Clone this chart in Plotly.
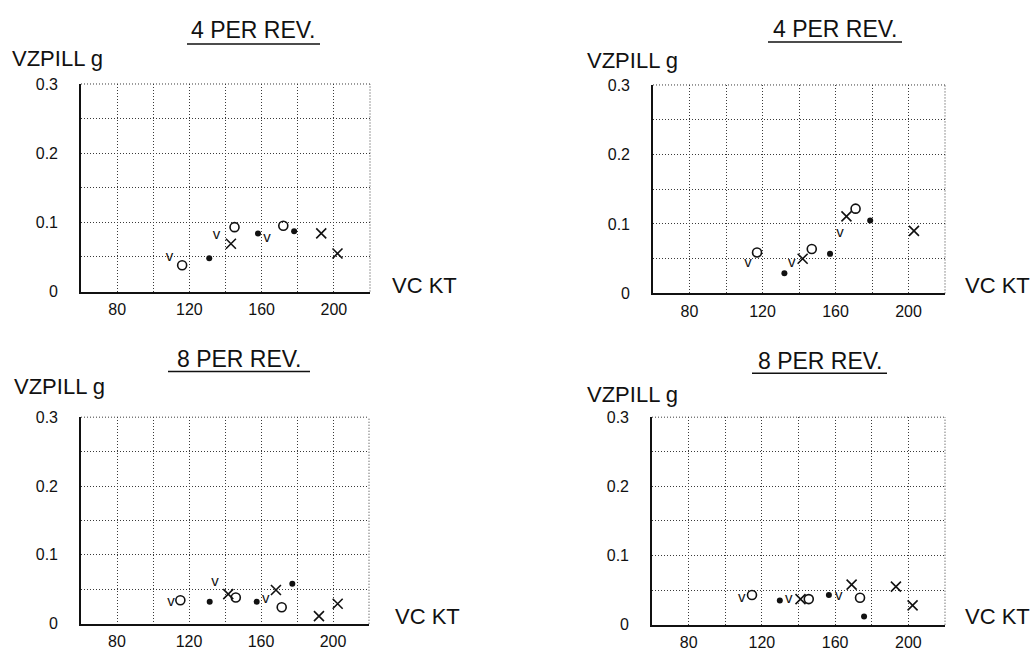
import plotly.graph_objects as go

W, H = 1034, 660

# ---------------- data (VC in knots, VZPILL in g) ----------------
titles = ["4 PER REV.", "4 PER REV.", "8 PER REV.", "8 PER REV."]
x_tick_labels = ["", "80", "", "120", "", "160", "", "200", ""]
x_tick_vals = [60, 80, 100, 120, 140, 160, 180, 200, 220]
y_tick_vals = [0, 0.05, 0.1, 0.15, 0.2, 0.25, 0.3]
y_tick_labels = ["0", "", "0.1", "", "0.2", "", "0.3"]

# panel 1 : 4 per rev (left)
p1_v_x = [109, 135, 163]
p1_v_y = [0.049, 0.081, 0.077]
p1_o_x = [116, 145, 172]
p1_o_y = [0.038, 0.093, 0.095]
p1_dot_x = [131, 158, 178]
p1_dot_y = [0.048, 0.084, 0.087]
p1_x_x = [143, 193, 202]
p1_x_y = [0.069, 0.084, 0.055]

# panel 2 : 4 per rev (right)
p2_v_x = [112, 136, 162.5]
p2_v_y = [0.043, 0.043, 0.086]
p2_o_x = [117, 147, 171]
p2_o_y = [0.059, 0.064, 0.122]
p2_dot_x = [132, 157, 179]
p2_dot_y = [0.029, 0.057, 0.105]
p2_x_x = [142, 166, 203]
p2_x_y = [0.050, 0.111, 0.090]

# panel 3 : 8 per rev (left)
p3_v_x = [110, 134.5, 162.6]
p3_v_y = [0.031, 0.060, 0.036]
p3_o_x = [115.2, 146, 171.5]
p3_o_y = [0.034, 0.038, 0.024]
p3_dot_x = [131.5, 157.6, 177.4]
p3_dot_y = [0.032, 0.032, 0.058]
p3_x_x = [141.8, 168.3, 192.2, 202.6]
p3_x_y = [0.043, 0.049, 0.011, 0.029]

# panel 4 : 8 per rev (right)
p4_v_x = [109, 134.7, 162]
p4_v_y = [0.038, 0.037, 0.041]
p4_o_x = [114.6, 145.6, 173.6]
p4_o_y = [0.043, 0.037, 0.039]
p4_dot_x = [129.8, 156.6, 175.8]
p4_dot_y = [0.035, 0.043, 0.012]
p4_x_x = [141.1, 169, 193.2, 202.3]
p4_x_y = [0.037, 0.058, 0.055, 0.028]

panels = [
    (p1_v_x, p1_v_y, p1_o_x, p1_o_y, p1_dot_x, p1_dot_y, p1_x_x, p1_x_y),
    (p2_v_x, p2_v_y, p2_o_x, p2_o_y, p2_dot_x, p2_dot_y, p2_x_x, p2_x_y),
    (p3_v_x, p3_v_y, p3_o_x, p3_o_y, p3_dot_x, p3_dot_y, p3_x_x, p3_x_y),
    (p4_v_x, p4_v_y, p4_o_x, p4_o_y, p4_dot_x, p4_dot_y, p4_x_x, p4_x_y),
]

# ---------------- layout geometry (pixels) ----------------
FONT = "Liberation Sans, Arial, Helvetica, sans-serif"
INK = "#111111"
GRID = "#3a3a3a"
GDASH = "1px,2px"

# plot boxes: (left, right, top, bottom) in px
boxes = [(81, 370, 78, 291), (653, 945, 79, 293), (81, 369, 420, 632), (652, 945, 420, 633)]
title_pos = [(253, 23, 187, 320, 37), (835, 22, 768, 902, 35),
             (239, 360, 168, 310, 373), (820, 362, 752, 887, 375)]
ylab_pos = [(10, 52), (585, 54), (12, 389), (585, 397)]
xlab_pos = [(390, 285), (963, 285), (393, 625), (963, 625)]


def px(x):
    return x / W


def py(y):
    return 1 - y / H


fig = go.Figure()

for i, (vx, vy, ox, oy, dx, dy, xx, xy) in enumerate(panels):
    xa = "x" if i == 0 else f"x{i+1}"
    ya = "y" if i == 0 else f"y{i+1}"
    fig.add_trace(go.Scatter(x=vx, y=vy, xaxis=xa, yaxis=ya, mode="text", text=["v"] * len(vx),
                             textfont=dict(family=FONT, size=15, color=INK), name="v",
                             showlegend=False, cliponaxis=False))
    fig.add_trace(go.Scatter(x=ox, y=oy, xaxis=xa, yaxis=ya, mode="markers", name="o",
                             marker=dict(symbol="circle-open", size=9, color=INK, line=dict(width=1.6, color=INK)),
                             showlegend=False, cliponaxis=False))
    fig.add_trace(go.Scatter(x=dx, y=dy, xaxis=xa, yaxis=ya, mode="markers", name="dot",
                             marker=dict(symbol="circle", size=6, color=INK),
                             showlegend=False, cliponaxis=False))
    fig.add_trace(go.Scatter(x=xx, y=xy, xaxis=xa, yaxis=ya, mode="markers", name="x",
                             marker=dict(symbol="x-thin-open", size=10, color=INK, line=dict(width=1.6, color=INK)),
                             showlegend=False, cliponaxis=False))

layout = dict(
    width=W, height=H, autosize=False,
    margin=dict(l=0, r=0, t=0, b=0),
    paper_bgcolor="white", plot_bgcolor="white",
    font=dict(family=FONT, color=INK),
    showlegend=False,
)

annotations = []
shapes = []
for i, (l, r, t, b) in enumerate(boxes):
    xkey = "xaxis" if i == 0 else f"xaxis{i+1}"
    ykey = "yaxis" if i == 0 else f"yaxis{i+1}"
    ya = "y" if i == 0 else f"y{i+1}"
    xa = "x" if i == 0 else f"x{i+1}"
    layout[xkey] = dict(
        domain=[px(l), px(r)], anchor=ya, range=[60, 220],
        tickmode="array", tickvals=x_tick_vals, ticktext=x_tick_labels,
        showgrid=True, gridcolor=GRID, griddash=GDASH, gridwidth=1,
        showline=True, linecolor=INK, linewidth=2, ticks="", zeroline=False,
        tickfont=dict(size=16, family=FONT, color=INK), ticklabelstandoff=2,
        fixedrange=True,
    )
    layout[ykey] = dict(
        domain=[py(b), py(t)], anchor=xa, range=[0, 0.3],
        tickmode="array", tickvals=y_tick_vals, ticktext=y_tick_labels,
        showgrid=True, gridcolor=GRID, griddash=GDASH, gridwidth=1,
        showline=True, linecolor=INK, linewidth=1.6, ticks="", zeroline=False,
        tickfont=dict(size=16, family=FONT, color=INK), ticklabelstandoff=18,
        fixedrange=True,
    )
    # dotted top / right frame
    shapes.append(dict(type="line", xref="paper", yref="paper", x0=px(l), x1=px(r), y0=py(t), y1=py(t),
                       line=dict(color=GRID, width=1, dash=GDASH)))
    shapes.append(dict(type="line", xref="paper", yref="paper", x0=px(r), x1=px(r), y0=py(b), y1=py(t),
                       line=dict(color=GRID, width=1, dash=GDASH)))

    cx, cy, u0, u1, uy = title_pos[i]
    annotations.append(dict(text=titles[i], xref="paper", yref="paper", x=px(cx), y=py(cy),
                            xanchor="center", yanchor="middle", showarrow=False,
                            font=dict(size=23, family=FONT, color=INK)))
    shapes.append(dict(type="line", xref="paper", yref="paper", x0=px(u0), x1=px(u1), y0=py(uy), y1=py(uy),
                       line=dict(color=INK, width=1.5)))
    lx, ly = ylab_pos[i]
    annotations.append(dict(text="VZPILL g", xref="paper", yref="paper", x=px(lx), y=py(ly),
                            xanchor="left", yanchor="middle", showarrow=False,
                            font=dict(size=22, family=FONT, color=INK)))
    kx, ky = xlab_pos[i]
    annotations.append(dict(text="VC KT", xref="paper", yref="paper", x=px(kx), y=py(ky),
                            xanchor="left", yanchor="middle", showarrow=False,
                            font=dict(size=22, family=FONT, color=INK)))

layout["annotations"] = annotations
layout["shapes"] = shapes
fig.update_layout(**layout)

fig.write_html("out.html")
